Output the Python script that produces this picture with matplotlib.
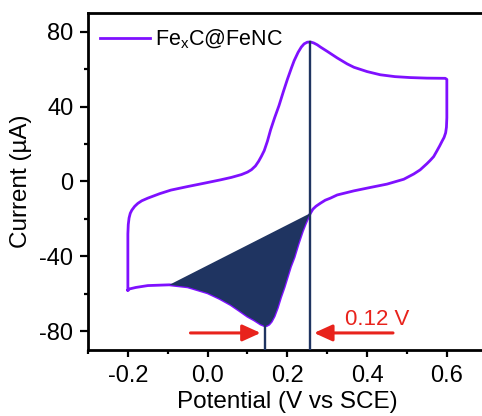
import matplotlib
matplotlib.use("Agg")
import matplotlib.pyplot as plt
import numpy as np

plt.rcParams['font.family'] = ['Liberation Sans', 'DejaVu Sans']
plt.rcParams['mathtext.fontset'] = 'custom'
plt.rcParams['mathtext.rm'] = 'Liberation Sans'
plt.rcParams['mathtext.it'] = 'Liberation Sans:italic'

# ---- data ----
# forward (anodic) scan, -0.2 V -> 0.6 V
E_fwd = [-0.200, -0.200, -0.200, -0.199, -0.197, -0.194, -0.190, -0.183, -0.175,
         -0.165, -0.150, -0.120, -0.092, -0.050, -0.008, 0.033, 0.060, 0.085,
         0.100, 0.110, 0.120, 0.128, 0.135, 0.142, 0.150, 0.158, 0.168, 0.179,
         0.190, 0.200, 0.210, 0.217, 0.227, 0.235, 0.242, 0.250, 0.258, 0.266,
         0.275, 0.283, 0.300, 0.325, 0.350, 0.367, 0.400, 0.433, 0.470, 0.508,
         0.550, 0.596, 0.600]
I_fwd = [-58.0, -40.0, -28.0, -23.0, -19.5, -17.0, -15.3, -13.3, -11.7,
         -10.3, -8.9, -6.5, -4.6, -2.7, -0.9, 0.9, 2.2, 3.7,
         5.0, 6.3, 8.3, 10.8, 13.5, 16.5, 21.5, 27.6, 34.0, 40.5,
         48.0, 54.5, 60.5, 64.5, 69.0, 71.8, 73.5, 74.4, 74.5, 74.0,
         73.0, 71.8, 69.5, 66.0, 62.8, 61.0, 58.7, 57.0, 56.0, 55.5,
         55.2, 55.1, 54.5]
# reverse (cathodic) scan, 0.6 V -> -0.2 V
E_rev = [0.600, 0.600, 0.599, 0.597, 0.593, 0.588, 0.582, 0.575, 0.567, 0.558,
         0.550, 0.533, 0.517, 0.492, 0.450, 0.408, 0.367, 0.325, 0.308, 0.295,
         0.283, 0.272, 0.264, 0.258, 0.252, 0.245, 0.238, 0.227, 0.217, 0.208,
         0.200, 0.192, 0.183, 0.175, 0.167, 0.160, 0.154, 0.148, 0.142, 0.133,
         0.117, 0.100, 0.080, 0.058, 0.030, 0.000, -0.050, -0.096, -0.150,
         -0.180, -0.196, -0.200]
I_rev = [45.0, 34.0, 29.0, 26.0, 23.5, 21.5, 19.0, 16.3, 13.3, 11.2,
         9.5, 6.2, 4.0, 1.2, -1.4, -3.2, -5.0, -7.2, -8.9, -10.0,
         -11.6, -13.2, -14.8, -16.9, -19.3, -22.7, -26.5, -33.5, -40.5, -45.5,
         -51.0, -56.5, -62.0, -67.5, -72.0, -74.8, -76.3, -77.0, -77.0, -76.2,
         -74.0, -72.0, -69.0, -65.8, -62.5, -59.5, -56.3, -55.2, -55.6,
         -56.6, -57.4, -58.0]

E_fill_start = 0.258    # shaded region along reverse scan
E_fill_end = -0.096
E_pa, I_pa = 0.258, 74.5   # anodic peak
E_pc, I_pc = 0.144, -77.0  # cathodic peak
dE_label = "0.12 V"
legend_label = r"Fe$_\mathrm{x}$C@FeNC"

purple = '#7f10ff'
navy = '#1f3461'
red = '#e8231c'

fig = plt.figure(figsize=(4.82, 4.16), dpi=100)
ax = fig.add_axes([0.18257, 0.1587, 0.8272, 0.8101])

E_all = np.array(E_fwd + E_rev)
I_all = np.array(I_fwd + I_rev)
ax.plot(E_all, I_all, color=purple, lw=2.0, label=legend_label, zorder=2,
        solid_joinstyle='round')

E_rev_a = np.array(E_rev)
I_rev_a = np.array(I_rev)
mask = (E_rev_a <= E_fill_start) & (E_rev_a >= E_fill_end)
ax.fill(E_rev_a[mask], I_rev_a[mask], color=navy, lw=0, zorder=3)

ylo, yhi = -90, 90
ax.plot([E_pa, E_pa], [I_pa, ylo], color=navy, lw=1.7, zorder=4)
ax.plot([E_pc, E_pc], [I_pc, ylo], color=navy, lw=1.7, zorder=4)

arrow_y = -80.9
ax.annotate('', xy=(0.133, arrow_y), xytext=(-0.043, arrow_y),
            arrowprops=dict(arrowstyle='-|>,head_length=1.1,head_width=0.5',
                            color=red, lw=2.2, shrinkA=0, shrinkB=0), zorder=5)
ax.annotate('', xy=(0.267, arrow_y), xytext=(0.465, arrow_y),
            arrowprops=dict(arrowstyle='-|>,head_length=1.1,head_width=0.5',
                            color=red, lw=2.2, shrinkA=0, shrinkB=0), zorder=5)
ax.text(0.4245, -73.8, dE_label, color=red, fontsize=16, ha='center', va='center')

ax.set_xlim(-0.3, 0.7)
ax.set_ylim(ylo, yhi)
ax.set_xticks([-0.2, 0.0, 0.2, 0.4, 0.6])
ax.set_xticks([-0.3, -0.1, 0.1, 0.3, 0.5], minor=True)
ax.set_yticks([-80, -40, 0, 40, 80])
ax.set_yticks([-60, -20, 20, 60], minor=True)
ax.set_xticklabels(['-0.2', '0.0', '0.2', '0.4', '0.6'])
ax.set_yticklabels(['-80', '-40', '0', '40', '80'])

for s in ax.spines.values():
    s.set_linewidth(2.0)
ax.tick_params(axis='both', which='major', direction='out', width=1.6, labelsize=17)
ax.tick_params(axis='x', which='major', length=5, pad=5.5)
ax.tick_params(axis='y', which='major', length=5.5, pad=5)
ax.tick_params(axis='both', which='minor', direction='out', width=1.6, length=3.2)

ax.set_xlabel('Potential (V vs SCE)', fontsize=17.5)
ax.set_ylabel('Current (µA)', fontsize=17.5)
ax.xaxis.set_label_coords(0.5, -0.122)
ax.yaxis.set_label_coords(-0.14, 0.5)

ax.legend(loc='center left', bbox_to_anchor=(0.0301, 0.922), frameon=False,
          fontsize=15.5, handlelength=2.33, handletextpad=0.23, borderpad=0,
          borderaxespad=0)

fig.savefig('out.png', dpi=100)
